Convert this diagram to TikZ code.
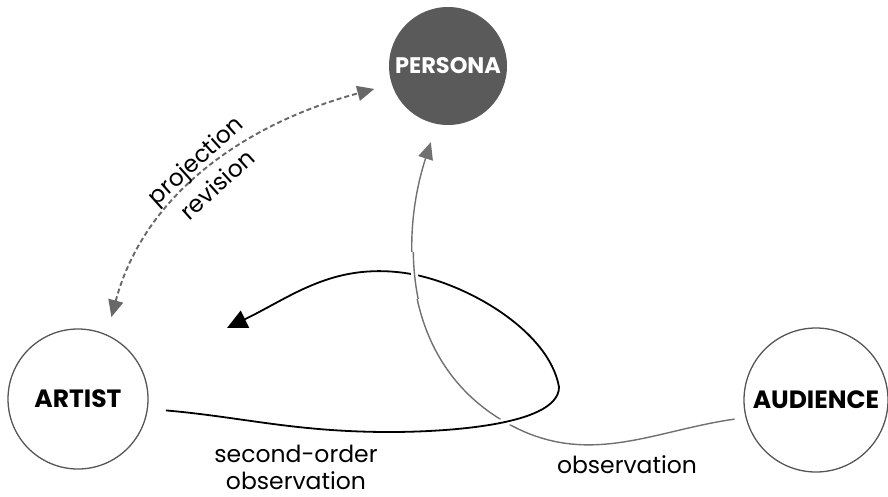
\documentclass[tikz,border=0pt]{standalone}
\usepackage{fontspec}
\setmainfont{Poppins}
\usepackage{tikz}
\usetikzlibrary{positioning,calc,arrows.meta}

\definecolor{personagray}{HTML}{5A5A5A}
\definecolor{ringgray}{HTML}{555555}
\definecolor{obsgray}{HTML}{707070}
\definecolor{dashgray}{HTML}{686868}

\begin{document}
\begin{tikzpicture}[x=1pt,y=1pt,
    actor/.style={circle, draw=ringgray, line width=1.3pt, fill=white, inner sep=0pt,
        minimum size=#1, font=\bfseries\fontsize{25}{28}\selectfont},
    personanode/.style={circle, fill=personagray, inner sep=0pt, minimum size=118pt,
        text=white, font=\bfseries\fontsize{22.5}{26}\selectfont},
    label text/.style={font=\fontsize{23.5}{27}\selectfont, align=center},
    obs line/.style={draw=obsgray, line width=1.4pt, -{Triangle[length=17pt,width=15pt]}},
    loop line/.style={draw=black, line width=1.8pt, -{Triangle[length=20pt,width=19pt]},
        preaction={draw=white, line width=7pt, -}},
    dash line/.style={draw=dashgray, line width=1.9pt, dash pattern=on 5pt off 3pt,
        {Triangle[length=17pt,width=15pt]}-{Triangle[length=17pt,width=15pt]}}]
    \useasboundingbox (0,0) rectangle (888,-496);

    % Nodes
    \node[personanode] (persona) at (448,-66) {PERSONA};
    \node[actor=140pt] (artist) at (78,-399) {ARTIST};
    \node[actor=144pt] (audience) at (816,-400) {AUDIENCE};
    \coordinate (loopend) at (227,-328);

    % Projection / revision
    \draw[dash line, shorten <=18pt, shorten >=18pt]
        (artist.66) to[out=75, in=195] (persona.198);
    \node[label text, rotate=42, font=\fontsize{23.5}{33}\selectfont] (projrev) at (206,-172) {projection\\revision};

    % Observation
    \draw[obs line, shorten <=11pt, shorten >=19pt]
        (audience.194) to[out=188, in=-30] (505,-422) to[out=150, in=-108] (persona.-101);

    % Second-order observation
    \draw[loop line, shorten <=18pt]
        (artist.-8) to[out=-5, in=180] (390,-432)
        to[out=0, in=-90, looseness=0.6] (559,-387)
        to[out=100, in=-8, looseness=0.78] (405,-273)
        to[out=172, in=26] (loopend);

    % gray line passes over at the top
    \begin{scope}
        \clip (385,-252) rectangle (445,-298);
        \draw[draw=obsgray, line width=1.4pt, preaction={draw=white, line width=7pt},
            shorten <=11pt, shorten >=19pt]
            (audience.194) to[out=188, in=-30] (505,-422) to[out=150, in=-108] (persona.-101);
    \end{scope}

    % Labels
    \node[label text] (second) at (296,-467) {second-order\\observation};
    \node[label text] (obs) at (627,-465) {observation};
\end{tikzpicture}
\end{document}
